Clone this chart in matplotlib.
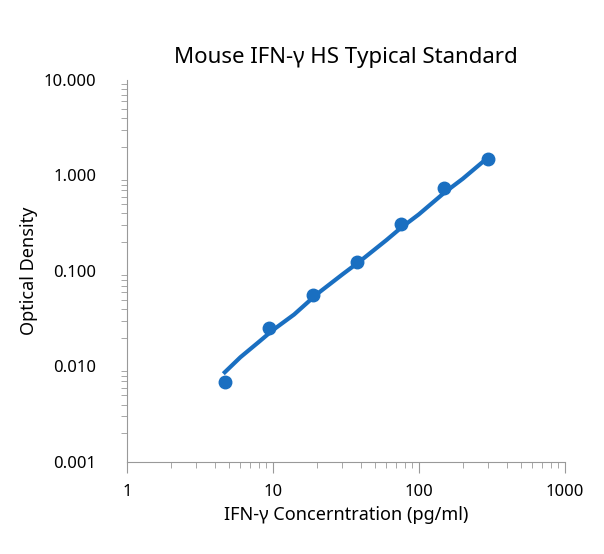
import numpy as np
import matplotlib.pyplot as plt
from matplotlib.ticker import FixedLocator, FixedFormatter

plt.rcParams['font.family'] = ['Noto Sans', 'DejaVu Sans']

# standard points
conc = [4.69, 9.38, 18.75, 37.5, 75, 150, 300]
od = [0.0069, 0.025, 0.056, 0.123, 0.31, 0.73, 1.5]
# fitted curve
fit_x = [4.69, 6, 8, 10, 14, 20, 30, 40, 60, 75, 100, 150, 200, 300]
fit_y = [0.0087, 0.0125, 0.018, 0.024, 0.035, 0.057, 0.092, 0.128, 0.21, 0.28, 0.39, 0.66, 0.92, 1.55]

ytick_vals = [0.001, 0.01, 0.1, 1, 10]
ytick_labels = ["0.001", "0.010", "0.100", "1.000", "10.000"]
xtick_vals = [1, 10, 100, 1000]
xtick_labels = ["1", "10", "100", "1000"]

blue = "#1a6fc1"
fig = plt.figure(figsize=(6.04, 5.54), dpi=100)
ax = fig.add_axes([0.21, 0.166, 0.725, 0.69])
ax.plot(fit_x, fit_y, color=blue, lw=3)
ax.plot(conc, od, 'o', color=blue, ms=9)
ax.set_xscale('log')
ax.set_yscale('log')
ax.set_xlim(1, 1000)
ax.set_ylim(0.001, 10)
ax.yaxis.set_major_locator(FixedLocator(ytick_vals))
ax.yaxis.set_major_formatter(FixedFormatter(ytick_labels))
ax.xaxis.set_major_locator(FixedLocator(xtick_vals))
ax.xaxis.set_major_formatter(FixedFormatter(xtick_labels))
for s in ['top', 'right']:
    ax.spines[s].set_visible(False)
for s in ['bottom', 'left']:
    ax.spines[s].set_color('#999999')
ax.tick_params(which='both', color='#999999', labelsize=12)
ax.tick_params(axis='x', which='major', length=8, pad=8)
ax.tick_params(axis='y', which='major', length=0, pad=22)
ax.tick_params(which='minor', length=4)
ax.set_title("Mouse IFN-γ HS Typical Standard", fontsize=16, pad=12)
ax.set_xlabel("IFN-γ Concerntration (pg/ml)", fontsize=13)
ax.set_ylabel("Optical Density", fontsize=13)
fig.savefig("out.png")
